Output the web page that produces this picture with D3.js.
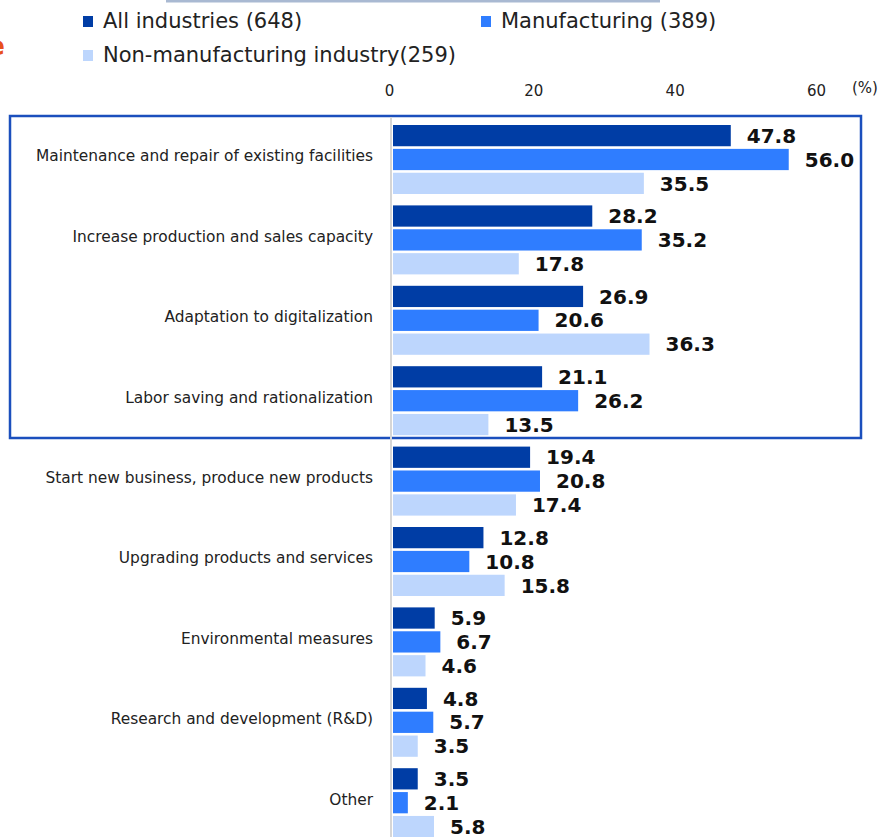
<!DOCTYPE html>
<html>
<head>
<meta charset="utf-8">
<script src="https://cdn.jsdelivr.net/npm/d3@7"></script>
<style>
  body { margin: 0; background: #fff; }
  svg { display: block; }
  text { font-family: "DejaVu Sans", sans-serif; fill: #222; }
  .val { font-family: "DejaVu Sans", sans-serif; font-weight: bold; font-size: 20px; fill: #111; }
</style>
</head>
<body>
<div class="chart"></div>
<script>
// data
var categories = [
  "Maintenance and repair of existing facilities",
  "Increase production and sales capacity",
  "Adaptation to digitalization",
  "Labor saving and rationalization",
  "Start new business, produce new products",
  "Upgrading products and services",
  "Environmental measures",
  "Research and development (R&D)",
  "Other"
];
var seriesNames = ["All industries (648)", "Manufacturing (389)", "Non-manufacturing industry(259)"];
var allIndustries = [47.8, 28.2, 26.9, 21.1, 19.4, 12.8, 5.9, 4.8, 3.5];
var manufacturing = [56.0, 35.2, 20.6, 26.2, 20.8, 10.8, 6.7, 5.7, 2.1];
var nonManufacturing = [35.5, 17.8, 36.3, 13.5, 17.4, 15.8, 4.6, 3.5, 5.8];
var tickValues = [0, 20, 40, 60];
var colors = ["#003da5", "#2f7dff", "#bdd6fd"];

var svgWidth = 883;
var svgHeight = 837;

var svg = d3.select(".chart")
  .append("svg")
  .attr("width", svgWidth)
  .attr("height", svgHeight);

var series = [allIndustries, manufacturing, nonManufacturing];

// scales
var xScale = d3.scaleLinear()
  .domain([0, 60])
  .range([392, 816]);

var groupHeight = 80.4;
var yScale = d3.scaleBand()
  .domain(categories)
  .range([120.5, 120.5 + groupHeight * categories.length]);

var ySub = d3.scaleBand()
  .domain(d3.range(3))
  .range([4.5, 73.5])
  .paddingInner(0.11);

// cut-off bits at the top of the picture
svg.append("rect")
  .attr("x", 166).attr("y", 0)
  .attr("width", 494).attr("height", 2.5)
  .attr("fill", "#a9b9d2");

svg.append("text")
  .attr("x", 5).attr("y", 55)
  .attr("text-anchor", "end")
  .style("font-size", "26px")
  .style("font-weight", "bold")
  .style("fill", "#e8501c")
  .text("e");

// legend
var legendPos = [[83, 16], [481, 16], [83, 50]];
seriesNames.forEach(function(name, i) {
  var g = svg.append("g")
    .attr("transform", `translate(${legendPos[i][0]}, ${legendPos[i][1]})`);
  g.append("rect")
    .attr("width", 10).attr("height", 11)
    .attr("fill", colors[i]);
  g.append("text")
    .attr("x", 20).attr("y", 11.5)
    .style("font-size", "21px")
    .text(name);
});

// top axis
var xAxis = d3.axisTop(xScale)
  .tickValues(tickValues)
  .tickSize(0)
  .tickPadding(0);

var axisG = svg.append("g")
  .attr("transform", "translate(0, 96)")
  .call(xAxis);
axisG.select(".domain").remove();
axisG.selectAll("text")
  .style("font-family", "DejaVu Sans, sans-serif")
  .style("font-size", "15px")
  .style("fill", "#222");
axisG.selectAll(".tick").filter(d => d === 0).select("text").attr("x", -3);

svg.append("text")
  .attr("x", 865).attr("y", 93)
  .attr("text-anchor", "middle")
  .style("font-size", "15px")
  .text("(%)");

// highlight box
svg.append("rect")
  .attr("x", 10).attr("y", 116)
  .attr("width", 851).attr("height", 322)
  .attr("fill", "none")
  .attr("stroke", "#1b4fbd")
  .attr("stroke-width", 2.5);

// zero line
svg.append("line")
  .attr("x1", 391).attr("x2", 391)
  .attr("y1", 117).attr("y2", svgHeight)
  .attr("stroke", "#d6d6d6")
  .attr("stroke-width", 2);

// bars
var groups = svg.selectAll(".group")
  .data(categories)
  .enter()
  .append("g")
  .attr("class", "group")
  .attr("transform", d => `translate(0, ${yScale(d)})`);

groups.append("text")
  .attr("x", 373)
  .attr("y", 35.5)
  .attr("dy", "0.35em")
  .attr("text-anchor", "end")
  .style("font-size", "15.4px")
  .text(d => d);

groups.each(function(cat, ci) {
  var g = d3.select(this);
  var rows = series.map((s, si) => ({ si: si, v: s[ci] }));

  g.selectAll("rect")
    .data(rows)
    .enter()
    .append("rect")
    .attr("x", xScale(0) + 1)
    .attr("y", d => ySub(d.si))
    .attr("width", d => xScale(d.v) - xScale(0))
    .attr("height", ySub.bandwidth())
    .attr("fill", d => colors[d.si]);

  g.selectAll(".val")
    .data(rows)
    .enter()
    .append("text")
    .attr("class", "val")
    .attr("x", d => xScale(d.v) + 17)
    .attr("y", d => ySub(d.si) + ySub.bandwidth() / 2)
    .attr("dy", "0.36em")
    .text(d => d.v.toFixed(1));
});
</script>
</body>
</html>
